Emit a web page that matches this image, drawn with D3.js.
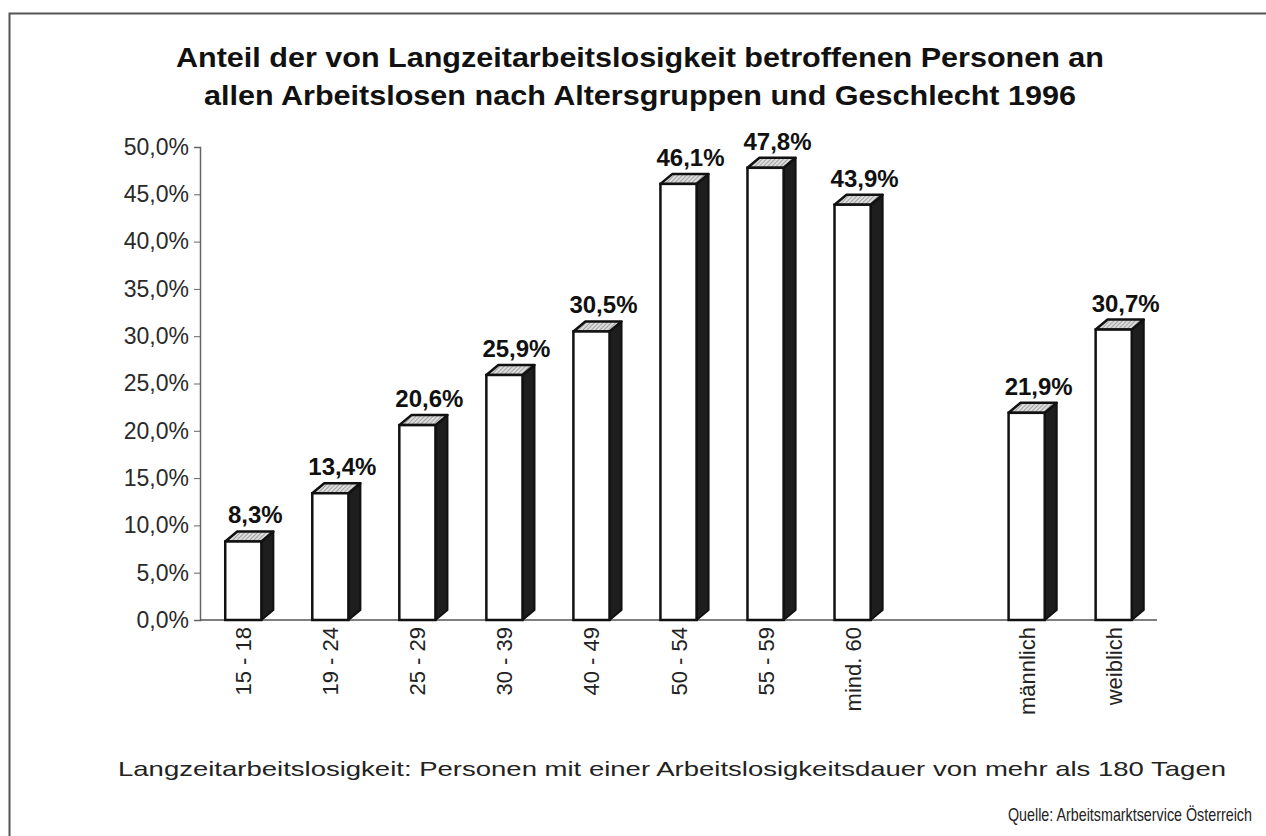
<!DOCTYPE html>
<html>
<head>
<meta charset="utf-8">
<script src="https://cdn.jsdelivr.net/npm/d3@7"></script>
<style>
  body { margin: 0; background: #fff; }
  svg { font-family: "Liberation Sans", Arial, sans-serif; }
</style>
</head>
<body>
<svg id="chart" width="1266" height="836"></svg>
<script>
// categories (blank slot separates age groups from gender)
const categories = ["15 - 18", "19 - 24", "25 - 29", "30 - 39", "40 - 49", "50 - 54", "55 - 59", "mind. 60", "", "männlich", "weiblich"];
const values = [8.3, 13.4, 20.6, 25.9, 30.5, 46.1, 47.8, 43.9, null, 21.9, 30.7];
const valueLabels = ["8,3%", "13,4%", "20,6%", "25,9%", "30,5%", "46,1%", "47,8%", "43,9%", "", "21,9%", "30,7%"];
const yTicks = [0, 5, 10, 15, 20, 25, 30, 35, 40, 45, 50];
const titleLines = ["Anteil der von Langzeitarbeitslosigkeit betroffenen Personen an",
                    "allen Arbeitslosen nach Altersgruppen und Geschlecht 1996"];
const note = "Langzeitarbeitslosigkeit: Personen mit einer Arbeitslosigkeitsdauer von mehr als 180 Tagen";
const source = "Quelle: Arbeitsmarktservice Österreich";

const svg = d3.select("#chart");

// frame
svg.append("path")
  .attr("d", "M9.5,836 V13.5 H1266")
  .attr("fill", "none").attr("stroke", "#555").attr("stroke-width", 2);

// hatch pattern for bar tops
const defs = svg.append("defs");
const pat = defs.append("pattern").attr("id", "hatch")
  .attr("width", 3).attr("height", 3).attr("patternUnits", "userSpaceOnUse")
  .attr("patternTransform", "rotate(45)");
pat.append("rect").attr("width", 3).attr("height", 3).attr("fill", "#ddd");
pat.append("line").attr("x1", 0).attr("y1", 0).attr("x2", 0).attr("y2", 3)
  .attr("stroke", "#777").attr("stroke-width", 1.2);

// title
const title = svg.append("g");
titleLines.forEach((t, i) => {
  title.append("text")
    .attr("x", 640).attr("y", 67 + i * 38)
    .attr("text-anchor", "middle")
    .attr("font-size", 28).attr("font-weight", "bold")
    .attr("fill", "#111")
    .attr("textLength", i === 0 ? 928 : 872)
    .attr("lengthAdjust", "spacingAndGlyphs")
    .text(t);
});

const x = d3.scaleBand().domain(categories).range([200, 1157]).paddingInner(0.585).paddingOuter(0.29);
const y = d3.scaleLinear().domain([0, 50]).range([620, 147]);

// y axis
const yAxis = svg.append("g").attr("transform", "translate(200,0)")
  .call(d3.axisLeft(y).tickValues(yTicks).tickSize(6).tickPadding(5)
    .tickFormat(d => d3.format(".1f")(d).replace(".", ",") + "%"));
yAxis.select(".domain").attr("stroke", "#666").attr("stroke-width", 1.5);
yAxis.selectAll(".tick line").attr("stroke", "#666");
yAxis.selectAll("text").attr("font-size", 23).attr("fill", "#2a2a2a")
  .attr("font-family", "Liberation Sans, Arial, sans-serif");

// x axis line
svg.append("line").attr("x1", 200).attr("x2", 1157).attr("y1", 620).attr("y2", 620)
  .attr("stroke", "#555").attr("stroke-width", 1.5);

// 3D bars
const dx = 12, dy = 10;
const data = categories.map((c, i) => ({ c, v: values[i], label: valueLabels[i] })).filter(d => d.v != null);
const bw = x.bandwidth();
const bars = svg.append("g").selectAll("g").data(data).join("g");

bars.append("path") // side
  .attr("d", d => {
    const x1 = x(d.c) + bw, yt = y(d.v), yb = y(0);
    return `M${x1},${yt} L${x1 + dx},${yt - dy} L${x1 + dx},${yb - dy} L${x1},${yb} Z`;
  })
  .attr("fill", "#1e1e1e").attr("stroke", "#111").attr("stroke-width", 2).attr("stroke-linejoin", "round");

bars.append("path") // top
  .attr("d", d => {
    const x0 = x(d.c), yt = y(d.v);
    return `M${x0},${yt} L${x0 + dx},${yt - dy} L${x0 + bw + dx},${yt - dy} L${x0 + bw},${yt} Z`;
  })
  .attr("fill", "url(#hatch)").attr("stroke", "#111").attr("stroke-width", 2.5).attr("stroke-linejoin", "round");

bars.append("rect") // front
  .attr("x", d => x(d.c)).attr("y", d => y(d.v))
  .attr("width", bw).attr("height", d => y(0) - y(d.v))
  .attr("fill", "#fff").attr("stroke", "#111").attr("stroke-width", 2.5);

bars.append("text")
  .attr("x", d => x(d.c) + bw / 2 + 12)
  .attr("y", d => y(d.v) - dy - 8)
  .attr("text-anchor", "middle")
  .attr("font-size", 24).attr("font-weight", "bold").attr("fill", "#111")
  .text(d => d.label);

// category labels, rotated
svg.append("g").selectAll("text").data(categories.filter(c => c !== "")).join("text")
  .attr("transform", d => `translate(${x(d) + bw / 2 + 8},627) rotate(-90)`)
  .attr("text-anchor", "end")
  .attr("font-size", 22).attr("fill", "#222")
  .text(d => d);

// footnote and source
svg.append("text").attr("x", 672).attr("y", 776).attr("text-anchor", "middle")
  .attr("font-size", 21).attr("fill", "#222")
  .attr("textLength", 1108).attr("lengthAdjust", "spacingAndGlyphs")
  .text(note);
const src = svg.append("text")
  .attr("font-size", 18).attr("fill", "#222")
  .text(source);
const srcLen = src.node().getComputedTextLength();
src.attr("transform", `translate(1008,821) scale(${244 / srcLen},1)`);
</script>
</body>
</html>
